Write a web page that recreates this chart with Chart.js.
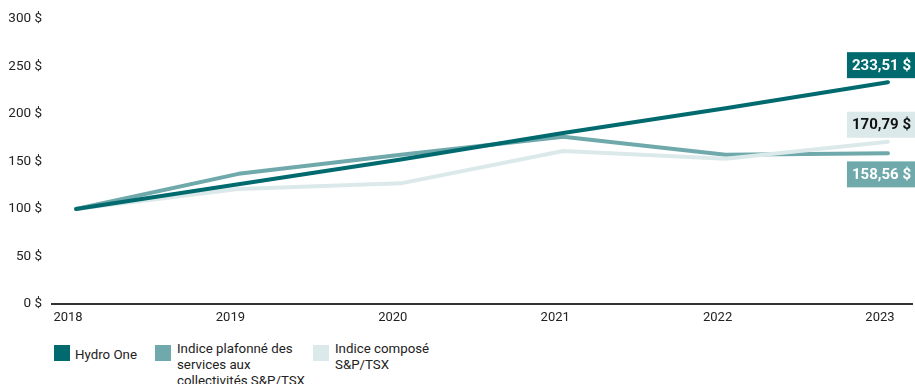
<!DOCTYPE html>
<html>
<head>
<meta charset="utf-8">
<script src="https://cdn.jsdelivr.net/npm/chart.js@4/dist/chart.umd.min.js"></script>
<style>
  html, body { margin: 0; padding: 0; background: #fff; width: 915px; height: 384px; overflow: hidden; }
  #wrap { position: absolute; left: 0; top: 0; width: 915px; height: 330px; }
  .legend { position: absolute; top: 341px; font-family: Roboto, "Noto Sans", sans-serif; font-size: 13.3px; line-height: 16px; color: #222; }
  .sw { position: absolute; width: 16px; height: 16px; top: 4px; }
  .lt { position: absolute; left: 21px; top: 0; white-space: nowrap; }
</style>
</head>
<body>
<div id="wrap"><canvas id="c"></canvas></div>
<div class="legend" style="left:54px"><div class="sw" style="background:#006a6f"></div><div class="lt" style="top:6px">Hydro One</div></div>
<div class="legend" style="left:155px"><div class="sw" style="background:#6fa9ab"></div><div class="lt" style="left:22px">Indice plafonné des<br>services aux<br>collectivités S&amp;P/TSX</div></div>
<div class="legend" style="left:313px"><div class="sw" style="background:#dce9ea"></div><div class="lt" style="left:22px">Indice composé<br>S&amp;P/TSX</div></div>
<script>
const years = [2018, 2019, 2020, 2021, 2022, 2023];
const hydroOne = [100, 126, 152, 180, 206, 233.51];
const utilityIndex = [100, 137, 157, 176, 157, 158.56];
const tsxComposite = [100, 121, 127, 161, 153, 170.79];
const yTicks = [0, 50, 100, 150, 200, 250, 300];
const endLabels = ['233,51 $', '170,79 $', '158,56 $'];

const toPts = arr => arr.map((v, i) => ({ x: years[i], y: v }));

const endLabelPlugin = {
  id: 'endLabels',
  afterDatasetsDraw(chart) {
    const ctx = chart.ctx;
    chart.data.datasets.forEach((ds, i) => {
      const meta = chart.getDatasetMeta(i);
      const pt = meta.data[meta.data.length - 1];
      const cfg = ds.endLabel;
      ctx.save();
      ctx.font = 'bold 15px Roboto, "Noto Sans", sans-serif';
      const tw = ctx.measureText(cfg.text).width;
      const w = tw + 10, h = 26;
      const right = chart.width + 1;
      const cy = pt.y + cfg.dy;
      ctx.fillStyle = cfg.bg;
      ctx.fillRect(right - w, cy - h / 2, w, h);
      ctx.fillStyle = cfg.color;
      ctx.textAlign = 'center';
      ctx.textBaseline = 'middle';
      ctx.fillText(cfg.text, right - w / 2, cy + 1);
      ctx.restore();
    });
  }
};

new Chart(document.getElementById('c'), {
  type: 'line',
  data: {
    datasets: [
      { label: 'Hydro One', data: toPts(hydroOne), borderColor: '#006a6f',
        endLabel: { text: endLabels[0], bg: '#006a6f', color: '#ffffff', dy: -17 } },
      { label: 'Indice composé S&P/TSX', data: toPts(tsxComposite), borderColor: '#dce9ea',
        endLabel: { text: endLabels[1], bg: '#dce9ea', color: '#111111', dy: -17 } },
      { label: 'Indice plafonné des services aux collectivités S&P/TSX', data: toPts(utilityIndex), borderColor: '#6fa9ab',
        endLabel: { text: endLabels[2], bg: '#6fa9ab', color: '#ffffff', dy: 21 } }
    ]
  },
  options: {
    responsive: true,
    maintainAspectRatio: false,
    animation: false,
    layout: { padding: { top: 19, right: 3, left: 0, bottom: 0 } },
    elements: {
      line: { borderWidth: 4, tension: 0, borderCapStyle: 'round', borderJoinStyle: 'round' },
      point: { radius: 0, hoverRadius: 0 }
    },
    plugins: { legend: { display: false }, tooltip: { enabled: false } },
    scales: {
      x: {
        type: 'linear',
        min: 2017.852,
        max: 2023.148,
        afterBuildTicks: s => { s.ticks = years.map(v => ({ value: v })); },
        afterFit: s => { s.height = 26; },
        grid: { display: false, drawTicks: false },
        border: { display: true, color: '#333333', width: 2 },
        ticks: {
          callback: v => String(v),
          labelOffset: -8,
          padding: 6,
          maxRotation: 0,
          autoSkip: false,
          color: '#222222',
          font: { family: 'Roboto, "Noto Sans", sans-serif', size: 13 }
        }
      },
      y: {
        min: 0,
        max: 300,
        afterBuildTicks: s => { s.ticks = yTicks.map(v => ({ value: v })); },
        afterFit: s => { s.width = 52; },
        grid: { display: false, drawTicks: false },
        border: { display: false },
        ticks: {
          callback: v => v + ' $',
          padding: 10,
          color: '#222222',
          font: { family: 'Roboto, "Noto Sans", sans-serif', size: 13.5 }
        }
      }
    }
  },
  plugins: [endLabelPlugin]
});
</script>
</body>
</html>
